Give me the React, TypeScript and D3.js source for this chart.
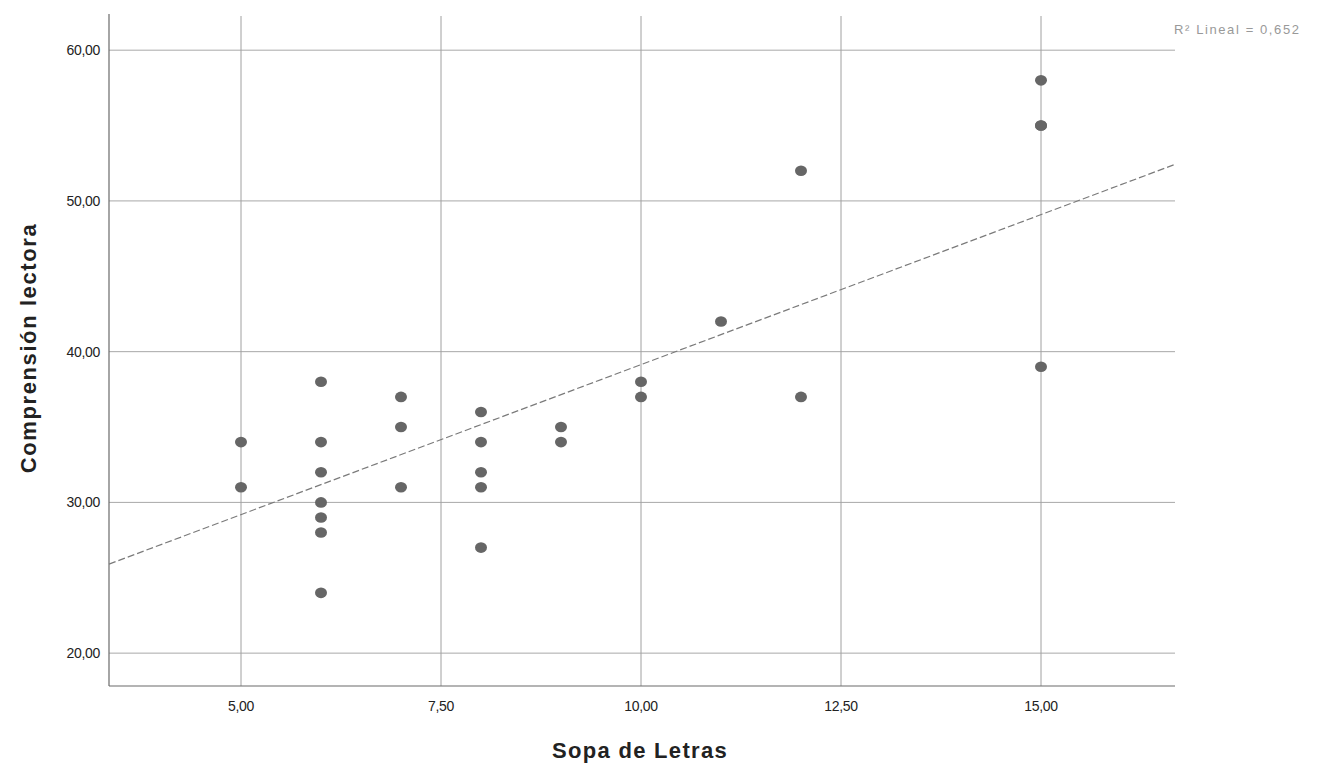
import React from "react";
import * as d3 from "d3";

const xTicks = [5, 7.5, 10, 12.5, 15];
const xTickLabels = ["5,00", "7,50", "10,00", "12,50", "15,00"];
const yTicks = [20, 30, 40, 50, 60];
const yTickLabels = ["20,00", "30,00", "40,00", "50,00", "60,00"];

const sopaLetras = [5, 5, 6, 6, 6, 6, 6, 6, 6, 7, 7, 7, 8, 8, 8, 8, 8, 9, 9, 10, 10, 11, 12, 12, 15, 15, 15, 15];
const comprension = [34, 31, 38, 34, 32, 30, 29, 28, 24, 37, 35, 31, 36, 34, 32, 31, 27, 35, 34, 38, 37, 42, 52, 37, 58, 55, 55, 39];

// fitted line: intercept, slope
const fitCoef = [19.24, 1.99];
const r2Label = "R² Lineal = 0,652";

const W = 1323, H = 772;
const left = 109, right = 1175, top = 14, bottom = 686;

export default function App() {
  const x = d3.scaleLinear().domain([3.35, 16.675]).range([left, right]);
  const y = d3.scaleLinear().domain([17.82, 62.4]).range([bottom, top]);
  const [b0, b1] = fitCoef;
  const xd = x.domain();
  const line = d3.line<number>().x((d) => x(d)).y((d) => y(b0 + b1 * d));
  const font = "Arial, 'Liberation Sans', sans-serif";
  return (
    <div style={{ position: "fixed", left: 0, top: 0 }}>
      <svg width={W} height={H} style={{ display: "block", background: "#fff" }}>
        {yTicks.map((t) => (
          <line key={"gy" + t} x1={left} x2={right} y1={y(t)} y2={y(t)} stroke="#a8a8a8" strokeWidth={1} />
        ))}
        {xTicks.map((t) => (
          <line key={"gx" + t} x1={x(t)} x2={x(t)} y1={top + 2} y2={bottom} stroke="#a0a0a0" strokeWidth={1} />
        ))}
        <line x1={left} x2={left} y1={top} y2={bottom} stroke="#6a6a6a" strokeWidth={1.2} />
        <line x1={left} x2={right} y1={bottom} y2={bottom} stroke="#6a6a6a" strokeWidth={1.2} />
        {yTicks.map((t, i) => (
          <text key={"ty" + t} x={left - 9} y={y(t)} dy="0.35em" textAnchor="end" fontFamily={font} fontSize={14} fill="#222" letterSpacing={-0.3}>
            {yTickLabels[i]}
          </text>
        ))}
        {xTicks.map((t, i) => (
          <text key={"tx" + t} x={x(t)} y={bottom + 25} textAnchor="middle" fontFamily={font} fontSize={14} fill="#222" letterSpacing={-0.3}>
            {xTickLabels[i]}
          </text>
        ))}
        <path d={line(xd) || ""} fill="none" stroke="#7a7a7a" strokeWidth={1.2} strokeDasharray="7,3" />
        {sopaLetras.map((v, i) => (
          <ellipse key={"p" + i} cx={x(v)} cy={y(comprension[i])} rx={6} ry={5.3} fill="#666" />
        ))}
        <text x={1174} y={34} fontFamily={font} fontSize={13} fill="#999" letterSpacing={1.6}>
          {r2Label}
        </text>
        <text x={640} y={758} textAnchor="middle" fontFamily={font} fontSize={22} fontWeight="bold" fill="#222" letterSpacing={1.3}>
          Sopa de Letras
        </text>
        <text transform={`translate(36,${348}) rotate(-90)`} textAnchor="middle" fontFamily={font} fontSize={22} fontWeight="bold" fill="#222" letterSpacing={1.6}>
          Comprensión lectora
        </text>
      </svg>
    </div>
  );
}
